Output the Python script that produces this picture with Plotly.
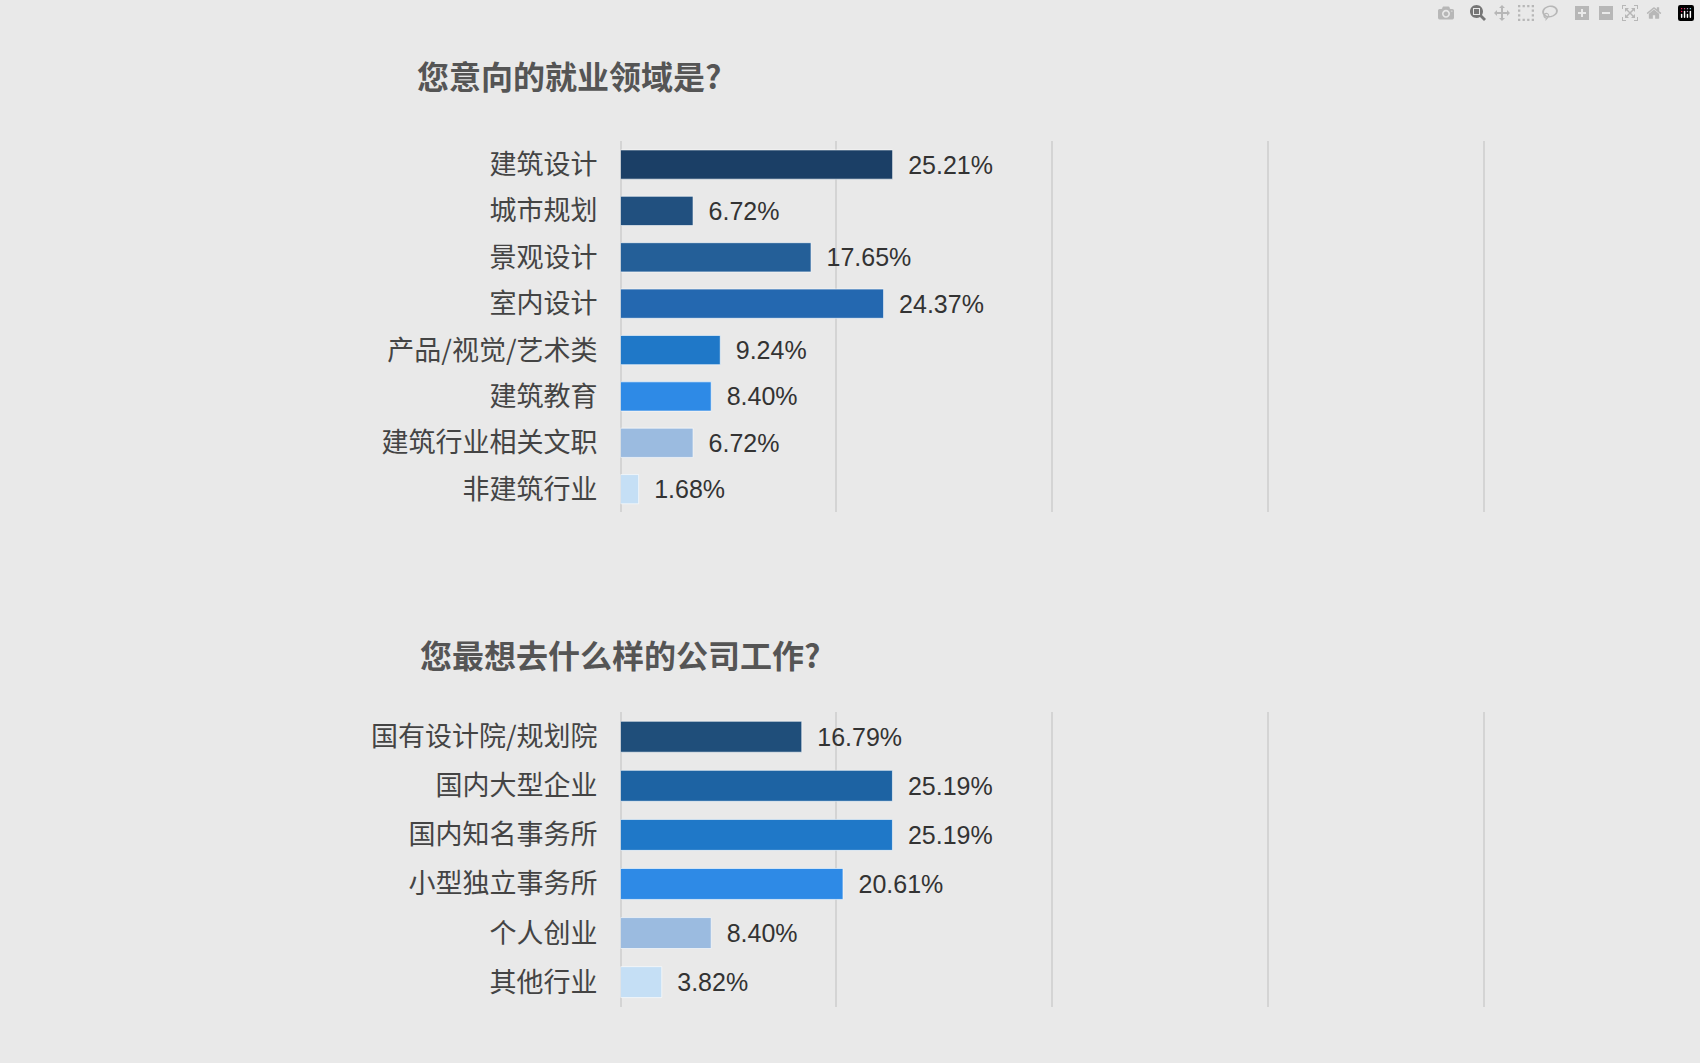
import plotly.graph_objects as go
from plotly.subplots import make_subplots

# data
cats1 = ["建筑设计", "城市规划", "景观设计", "室内设计", "产品/视觉/艺术类", "建筑教育", "建筑行业相关文职", "非建筑行业"]
vals1 = [25.21, 6.72, 17.65, 24.37, 9.24, 8.40, 6.72, 1.68]
colors1 = ["#1b3f66", "#21507f", "#245f98", "#2468b0", "#1f78c8", "#2e8ae6", "#9bbbe0", "#c5dff5"]

cats2 = ["国有设计院/规划院", "国内大型企业", "国内知名事务所", "小型独立事务所", "个人创业", "其他行业"]
vals2 = [16.79, 25.19, 25.19, 20.61, 8.40, 3.82]
colors2 = ["#1f4e7a", "#1d63a3", "#1f78c8", "#2e8ae6", "#9bbbe0", "#c5dff5"]

title1 = "您意向的就业领域是?"
title2 = "您最想去什么样的公司工作?"

font = "Noto Sans CJK SC"
fig = make_subplots(rows=2, cols=1)

for row, cats, vals, cols in [(1, cats1, vals1, colors1), (2, cats2, vals2, colors2)]:
    fig.add_trace(go.Bar(
        y=cats, x=vals, orientation="h",
        marker=dict(color=cols, line=dict(color="rgba(255,255,255,0.6)", width=1)),
        text=[f"\u2002{v:.2f}%" for v in vals], textposition="outside",
        textfont=dict(size=25, color="#333333", family="Liberation Sans, sans-serif"),
        cliponaxis=False, width=0.63, showlegend=False,
    ), row=row, col=1)

fig.update_layout(
    width=1700, height=1063,
    paper_bgcolor="#e9e9e9", plot_bgcolor="#e9e9e9",
    margin=dict(l=0, r=0, t=0, b=0),
    font=dict(family=font, color="#444444"),
    xaxis=dict(domain=[0.365, 1.0], anchor="y"),
    xaxis2=dict(domain=[0.365, 1.0], anchor="y2"),
    yaxis=dict(domain=[0.518, 0.867]),
    yaxis2=dict(domain=[0.053, 0.330]),
    annotations=[
        dict(text=f"<b>{title1}</b>", x=0.244, y=0.929, xref="paper", yref="paper",
             xanchor="left", yanchor="middle", showarrow=False, font=dict(size=32, color="#555555")),
        dict(text=f"<b>{title2}</b>", x=0.246, y=0.385, xref="paper", yref="paper",
             xanchor="left", yanchor="middle", showarrow=False, font=dict(size=32, color="#555555")),
    ],
)
fig.update_xaxes(range=[0, 100], dtick=20, showticklabels=False, showgrid=True,
                 gridcolor="#d4d4d4", gridwidth=1.5, zeroline=True, zerolinecolor="#d4d4d4", zerolinewidth=1.5)
fig.update_yaxes(autorange="reversed", showgrid=False, ticks="", ticklabelstandoff=22,
                 tickfont=dict(size=27, color="#444444", family=font))

fig.write_html("out.html", post_script="document.body.style.margin='0';")
